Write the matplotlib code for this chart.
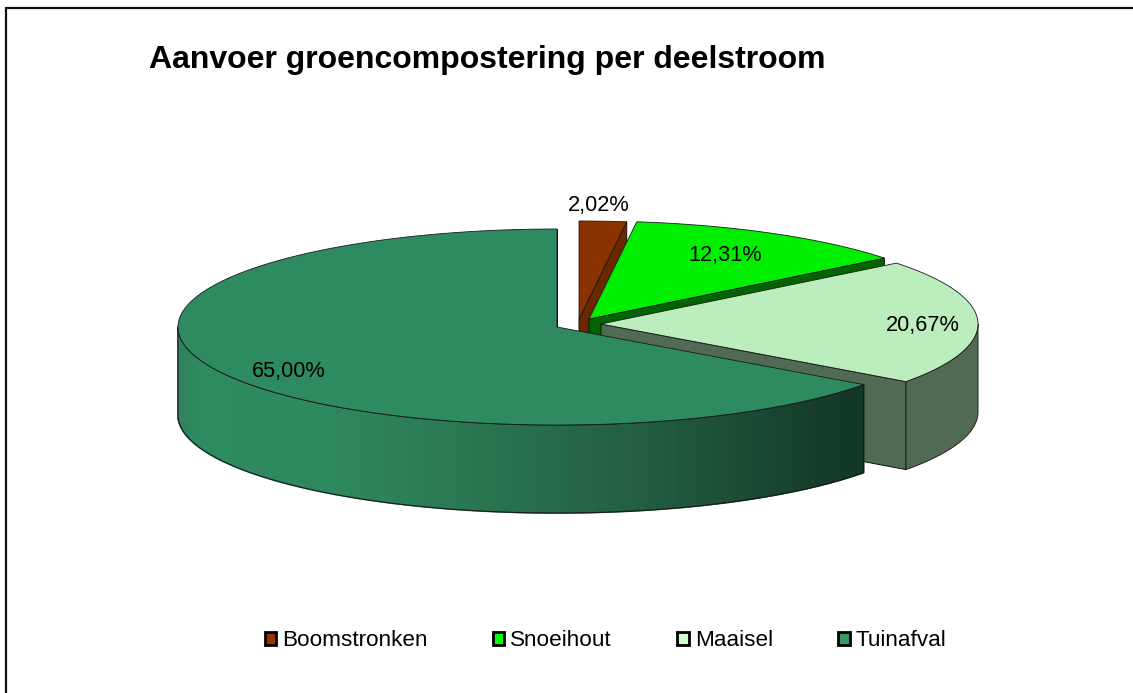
import numpy as np
import matplotlib
matplotlib.use("Agg")
import matplotlib.pyplot as plt
from matplotlib.patches import Polygon, Patch
from matplotlib.collections import PolyCollection

plt.rcParams['font.family'] = ['Liberation Sans', 'DejaVu Sans']

title = "Aanvoer groencompostering per deelstroom"
categories = ["Boomstronken", "Snoeihout", "Maaisel", "Tuinafval"]
values = [2.02, 12.31, 20.67, 65.00]
labels = ["2,02%", "12,31%", "20,67%", "65,00%"]

top_colors = ["#8B3300", "#00EE00", "#BBEDBD", "#2E8B60"]
side_colors = ["#6B2800", "#006400", "#516A53", "#143A28"]
legend_colors = ["#993300", "#00FF00", "#CCFFCC", "#339966"]
centers = [(579, 319), (589, 319), (601, 324), (557, 327)]
radii = [377, 377, 377, 379]
label_pos = [(599, 206), (725, 255), (923, 326), (289, 372)]
RY = 98
DEPTH = 88

W, H = 1133, 693
fig = plt.figure(figsize=(W / 100, H / 100), dpi=100, facecolor="white")
ax = fig.add_axes([0, 0, 1, 1])
ax.set_xlim(0, W)
ax.set_ylim(H, 0)
ax.axis("off")

# frame: left and top only reach the picture edge
ax.plot([6, 6, W], [H, 8, 8], color="#111111", lw=1.6, solid_joinstyle="miter", zorder=1)

edges = np.cumsum([0] + values) / sum(values) * 360


def arc(cx, cy, rx, t0, t1, n=200):
    t = np.radians(np.linspace(t0, t1, n))
    return np.column_stack([cx + rx * np.sin(t), cy - RY * np.cos(t)])


def shade(x):
    xs = [178, 200, 330, 460, 600, 700, 780, 830, 863]
    r = [48, 46, 46, 42, 36, 30, 24, 20, 20]
    g = [130, 139, 136, 120, 100, 84, 68, 58, 56]
    b = [90, 95, 93, 82, 70, 58, 47, 40, 38]
    return (np.interp(x, xs, r) / 255, np.interp(x, xs, g) / 255, np.interp(x, xs, b) / 255)


z = 2
for i in range(len(values)):
    t0, t1 = edges[i], edges[i + 1]
    cx, cy = centers[i]
    rx = radii[i]
    # end cut face
    pe = arc(cx, cy, rx, t1, t1, 1)[0]
    face = [(cx, cy), tuple(pe), (pe[0], pe[1] + DEPTH), (cx, cy + DEPTH)]
    ax.add_patch(Polygon(face, closed=True, fc=side_colors[i], ec="#111111", lw=0.7, zorder=z))
    # visible outer rim
    a0, a1 = max(t0, 90), min(t1, 270)
    if a1 > a0:
        rim = arc(cx, cy, rx, a0, a1, 240)
        low = rim + [0, DEPTH]
        if i == len(values) - 1:
            quads = [[rim[k], rim[k + 1], low[k + 1], low[k]] for k in range(len(rim) - 1)]
            cols = [shade(0.5 * (rim[k][0] + rim[k + 1][0])) for k in range(len(rim) - 1)]
            ax.add_collection(PolyCollection(quads, facecolors=cols, edgecolors=cols, linewidths=1.2,
                                             antialiased=True, zorder=z))
            ax.add_patch(Polygon(np.vstack([rim, low[::-1]]), closed=True, fc="none", ec="#1a1a1a", lw=0.8, zorder=z))
        else:
            ax.add_patch(Polygon(np.vstack([rim, low[::-1]]), closed=True, fc=side_colors[i], ec="#222222", lw=0.7, zorder=z))
    # top face
    pts = np.vstack([[cx, cy], arc(cx, cy, rx, t0, t1, 300)])
    ax.add_patch(Polygon(pts, closed=True, fc=top_colors[i], ec="#1a1a1a", lw=0.6, zorder=z))

for (x, y), s in zip(label_pos, labels):
    ax.text(x, y, s, ha="center", va="center", fontsize=15.7, color="black", zorder=10)

ax.text(149, 60, title, ha="left", va="center", fontsize=23.05, fontweight="bold", color="black", zorder=10)

handles = [Patch(fc=c, ec="black", lw=2) for c in legend_colors]
ax.legend(handles, categories, loc="center", bbox_to_anchor=(605.5, 641), bbox_transform=ax.transData,
          ncol=4, frameon=False, fontsize=16.2, handlelength=0.5, handleheight=0.5,
          handletextpad=0.27, columnspacing=2.91, borderpad=0, borderaxespad=0)

fig.savefig("out.png", dpi=100, facecolor="white")
